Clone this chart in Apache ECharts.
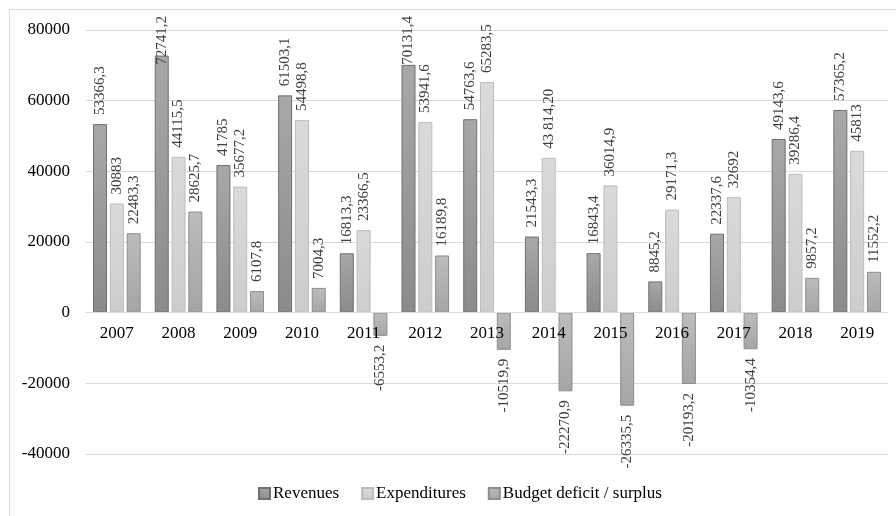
<!DOCTYPE html>
<html>
<head>
<meta charset="utf-8">
<title>Revenues, expenditures and budget balance, 2007–2019</title>
<script src="https://cdn.jsdelivr.net/npm/echarts@6/dist/echarts.min.js"></script>
<style>
  html, body { margin: 0; padding: 0; background: #ffffff; }
  #chart { width: 896px; height: 516px; }
</style>
</head>
<body>
<div id="chart"></div>
<script>
// Years on the category axis
const years = ['2007', '2008', '2009', '2010', '2011', '2012', '2013',
               '2014', '2015', '2016', '2017', '2018', '2019'];

// Values as printed on the bar labels (decimal comma)
const revenues = ['53366,3', '72741,2', '41785', '61503,1', '16813,3', '70131,4', '54763,6',
                  '21543,3', '16843,4', '8845,2', '22337,6', '49143,6', '57365,2'];
const expenditures = ['30883', '44115,5', '35677,2', '54498,8', '23366,5', '53941,6', '65283,5',
                      '43 814,20', '36014,9', '29171,3', '32692', '39286,4', '45813'];
const balance = ['22483,3', '28625,7', '6107,8', '7004,3', '-6553,2', '16189,8', '-10519,9',
                 '-22270,9', '-26335,5', '-20193,2', '-10354,4', '9857,2', '11552,2'];

// Value axis ticks
const yTicks = [-40000, -20000, 0, 20000, 40000, 60000, 80000];

const seriesNames = ['Revenues', 'Expenditures', 'Budget deficit / surplus'];

const toNumber = s => parseFloat(s.replace(/\s/g, '').replace(',', '.'));

const FONT = '"Liberation Serif", "Times New Roman", serif';
const LABEL_DISTANCE = 9;
const LABEL_MIN_TOP = 16;

function grad(top, bottom) {
  return new echarts.graphic.LinearGradient(0, 0, 0, 1, [
    { offset: 0, color: top },
    { offset: 1, color: bottom }
  ]);
}

const styles = [
  { fill: grad('#a8a8a8', '#8b8b8b'), border: '#707070' },
  { fill: grad('#dadada', '#cdcdcd'), border: '#bdbdbd' },
  { fill: grad('#bcbcbc', '#a5a5a5'), border: '#8e8e8e' }
];

function buildData(texts) {
  return texts.map(t => {
    const v = toNumber(t);
    const neg = v < 0;
    return {
      value: v,
      labelText: t,
      label: {
        position: neg ? 'bottom' : 'top',
        align: neg ? 'right' : 'left'
      }
    };
  });
}

const rawSets = [revenues, expenditures, balance];

const series = rawSets.map((set, i) => ({
  name: seriesNames[i],
  type: 'bar',
  barWidth: 14,
  barGap: '20%',
  data: buildData(set),
  itemStyle: {
    color: styles[i].fill,
    borderColor: styles[i].border,
    borderWidth: 1
  },
  label: {
    show: true,
    rotate: 90,
    distance: LABEL_DISTANCE,
    verticalAlign: 'middle',
    fontFamily: FONT,
    fontSize: 15,
    color: '#404040',
    formatter: p => p.data.labelText
  },
  labelLayout: p => {
    // keep tall labels inside the chart frame; the offset is applied in the
    // label's rotated frame, so a downward shift is a negative dx
    const barTop = Math.min(p.rect.y, p.rect.y + p.rect.height);
    const naturalTop = barTop - LABEL_DISTANCE - p.labelRect.height;
    if (p.rect.height > 0 && naturalTop < LABEL_MIN_TOP) {
      return { dx: -(LABEL_MIN_TOP - naturalTop) };
    }
    return { dx: 0 };
  }
}));

const chart = echarts.init(document.getElementById('chart'), null, { renderer: 'canvas' });

chart.setOption({
  animation: false,
  backgroundColor: '#ffffff',
  textStyle: { fontFamily: FONT },
  graphic: [
    { type: 'line', shape: { x1: 9.5, y1: 9.5, x2: 896, y2: 9.5 }, style: { stroke: '#d9d9d9', lineWidth: 1 }, silent: true },
    { type: 'line', shape: { x1: 9.5, y1: 9.5, x2: 9.5, y2: 516 }, style: { stroke: '#d9d9d9', lineWidth: 1 }, silent: true }
  ],
  grid: { left: 86, right: 8, top: 30, bottom: 62, containLabel: false },
  legend: {
    data: seriesNames,
    left: 253,
    top: 480,
    itemWidth: 11,
    itemHeight: 11,
    itemGap: 22,
    icon: 'rect',
    textStyle: { fontFamily: FONT, fontSize: 17, color: '#000000', padding: [0, 0, 0, -2] }
  },
  xAxis: {
    type: 'category',
    data: years,
    z: 3,
    axisLine: { onZero: true, lineStyle: { color: '#d9d9d9', width: 1 } },
    axisTick: { show: false },
    axisLabel: { fontFamily: FONT, fontSize: 17, color: '#000000', margin: 12 },
    splitLine: { show: false }
  },
  yAxis: {
    type: 'value',
    min: yTicks[0],
    max: yTicks[yTicks.length - 1],
    interval: yTicks[1] - yTicks[0],
    axisLine: { show: false },
    axisTick: { show: false },
    axisLabel: { fontFamily: FONT, fontSize: 17, color: '#000000', margin: 16, formatter: v => String(v) },
    splitLine: { lineStyle: { color: '#d9d9d9', width: 1 } }
  },
  series: series
});

// Put the category axis on the zero line of the value axis
const zeroY = chart.convertToPixel({ yAxisIndex: 0 }, 0);
const baseY = chart.convertToPixel({ yAxisIndex: 0 }, yTicks[0]);
chart.setOption({ xAxis: { offset: zeroY - baseY } });
</script>
</body>
</html>
